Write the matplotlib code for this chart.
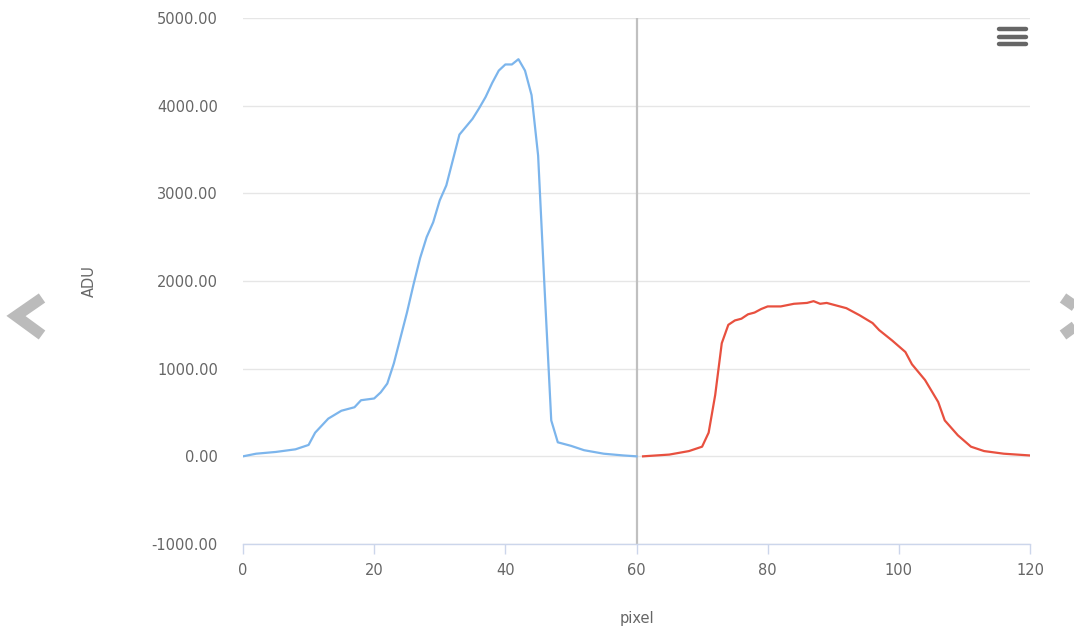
import matplotlib
matplotlib.use('Agg')
import matplotlib.pyplot as plt
from matplotlib.lines import Line2D
from matplotlib.ticker import FuncFormatter

# --- Data ---
blue_x = [0, 2, 5, 8, 10, 11, 13, 15, 17, 18, 19, 20, 21, 22, 23, 24, 25, 26, 27, 28,
          29, 30, 31, 32, 33, 34, 35, 36, 37, 38, 39, 40, 41, 42, 43, 44, 45, 46, 47, 48,
          50, 52, 55, 58, 60]
blue_y = [0, 30, 50, 80, 130, 270, 430, 520, 560, 640, 650, 660, 730, 830, 1060, 1350, 1640, 1960, 2260, 2500,
          2670, 2920, 3090, 3380, 3670, 3760, 3850, 3970, 4100, 4260, 4400, 4470, 4470, 4530, 4400, 4120, 3430, 1890, 410, 160,
          120, 70, 30, 10, 0]

red_x = [61, 65, 68, 70, 71, 72, 73, 74, 75, 76, 77, 78, 79, 80, 82, 84, 86, 87, 88, 89,
         90, 92, 94, 96, 97, 99, 101, 102, 104, 106, 107, 109, 111, 113, 116, 120]
red_y = [0, 20, 60, 110, 270, 700, 1290, 1500, 1550, 1570, 1620, 1640, 1680, 1710, 1710, 1740, 1750, 1770, 1740, 1750,
         1730, 1690, 1610, 1520, 1440, 1320, 1190, 1050, 870, 620, 410, 240, 110, 60, 30, 10]

x_ticks = [0, 20, 40, 60, 80, 100, 120]
y_ticks = [-1000, 0, 1000, 2000, 3000, 4000, 5000]

# --- Colors ---
COL_BLUE = '#7cb5ec'
COL_RED = '#e8503f'
COL_GRID = '#e6e6e6'
COL_AXIS = '#ccd6eb'
COL_TEXT = '#666666'
COL_PLOTLINE = '#c0c0c0'
COL_ARROW = '#bbbbbb'

W, H = 1074, 632
fig = plt.figure(figsize=(W / 100, H / 100), dpi=100)
fig.patch.set_facecolor('white')

left, right, top, bottom = 243, 1030, 18, 544
ax = fig.add_axes([left / W, 1 - bottom / H, (right - left) / W, (bottom - top) / H])

ax.set_xlim(0, 120)
ax.set_ylim(-1000, 5000)

ax.plot(blue_x, blue_y, color=COL_BLUE, lw=1.6, solid_joinstyle='round', zorder=3)
ax.plot(red_x, red_y, color=COL_RED, lw=1.6, solid_joinstyle='round', zorder=3)
ax.axvline(60, color=COL_PLOTLINE, lw=1.6, zorder=2)

for sp in ['left', 'right', 'top']:
    ax.spines[sp].set_visible(False)
ax.spines['bottom'].set_color(COL_AXIS)
ax.spines['bottom'].set_linewidth(1.0)

ax.set_yticks(y_ticks)
ax.set_xticks(x_ticks)
ax.yaxis.set_major_formatter(FuncFormatter(lambda v, p: f"{v:.2f}"))
ax.grid(axis='y', color=COL_GRID, lw=1.0, zorder=0)
ax.set_axisbelow(True)
ax.tick_params(axis='y', length=0, pad=18, labelsize=10.5, labelcolor=COL_TEXT)
ax.tick_params(axis='x', length=7, width=1, color=COL_AXIS, pad=7, labelsize=10.5, labelcolor=COL_TEXT)

ax.set_ylabel('ADU', color=COL_TEXT, fontsize=10.5)
ax.yaxis.set_label_coords(-0.1855, 0.5)
ax.set_xlabel('pixel', color=COL_TEXT, fontsize=10.5)
ax.xaxis.set_label_coords(0.5, -0.128)


def px(x, y):
    return x / W, 1 - y / H

# hamburger menu icon
for yy in [29, 36.5, 44]:
    x0, y0 = px(999, yy)
    x1, _ = px(1026, yy)
    fig.add_artist(Line2D([x0, x1], [y0, y0], color=COL_TEXT, lw=3.2, solid_capstyle='round'))

# navigation chevrons
lx = [px(42, 298), px(16, 316), px(42, 335)]
fig.add_artist(Line2D([p[0] for p in lx], [p[1] for p in lx], color=COL_ARROW, lw=8,
                      solid_joinstyle='miter', solid_capstyle='butt'))
rx = [px(1063, 298), px(1089, 316), px(1063, 335)]
fig.add_artist(Line2D([p[0] for p in rx], [p[1] for p in rx], color=COL_ARROW, lw=8,
                      solid_joinstyle='miter', solid_capstyle='butt'))

fig.savefig('out.png', dpi=100, facecolor='white')
